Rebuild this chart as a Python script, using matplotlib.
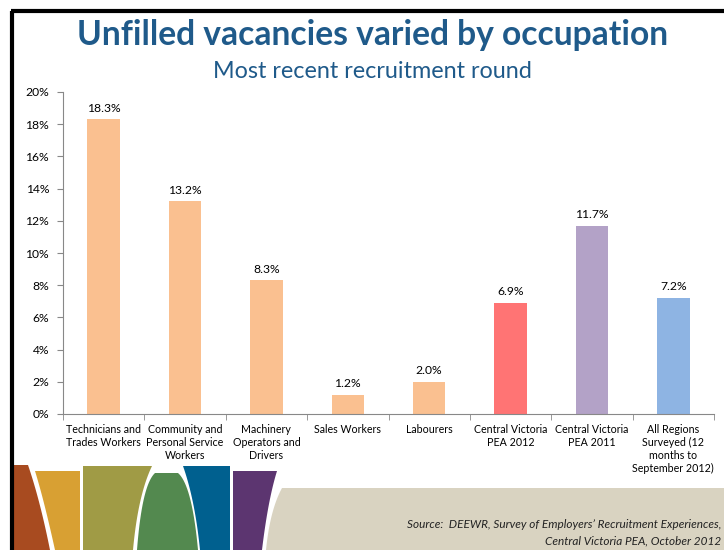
import numpy as np
import matplotlib
matplotlib.use("Agg")
import matplotlib.pyplot as plt
from matplotlib.patches import Polygon

plt.rcParams['font.family'] = ['Lato', 'DejaVu Sans']

categories = ["Technicians and\nTrades Workers", "Community and\nPersonal Service\nWorkers",
              "Machinery\nOperators and\nDrivers", "Sales Workers", "Labourers",
              "Central Victoria\nPEA 2012", "Central Victoria\nPEA 2011",
              "All Regions\nSurveyed (12\nmonths to\nSeptember 2012)"]
values = [18.3, 13.2, 8.3, 1.2, 2.0, 6.9, 11.7, 7.2]
bar_colors = ["#FAC090", "#FAC090", "#FAC090", "#FAC090", "#FAC090",
              "#FF7474", "#B3A2C7", "#8EB4E3"]
yticks = [0, 2, 4, 6, 8, 10, 12, 14, 16, 18, 20]

W, H = 724, 550
fig = plt.figure(figsize=(W / 100, H / 100), dpi=100)

# decoration layer (pixel coordinates)
deco = fig.add_axes([0, 0, 1, 1], zorder=0)
deco.set_xlim(0, W)
deco.set_ylim(H, 0)
deco.axis('off')


def bez(p0, p1, p2, n=20):
    t = np.linspace(0, 1, n)[:, None]
    p0, p1, p2 = map(np.array, (p0, p1, p2))
    return (1 - t) ** 2 * p0 + 2 * (1 - t) * t * p1 + t ** 2 * p2


def shape(pts, color):
    deco.add_patch(Polygon(pts, closed=True, facecolor=color, edgecolor='none'))


# brown
pts = np.vstack([[13, 465], bez([28, 465], [40, 500], [50, 550]), [13, 550]])
shape(pts, "#A84B20")
# orange
pts = np.vstack([[80, 471], [80, 550], bez([55, 550], [44, 500], [35, 471])])
shape(pts, "#D8A033")
# olive
pts = np.vstack([[83, 466], bez([152, 466], [138, 495], [133, 550]), [83, 550]])
shape(pts, "#A09B45")
# green arch
pts = np.vstack([bez([137, 550], [142, 485], [155, 473]), [[178, 473]],
                 bez([178, 473], [192, 485], [198, 550])])
shape(pts, "#53894F")
# blue
pts = np.vstack([bez([183, 466], [195, 500], [200, 550]), [[230, 550], [230, 466]]])
shape(pts, "#00608F")
# purple
pts = np.vstack([[233, 471], [233, 550], bez([262, 550], [268, 500], [277, 471])])
shape(pts, "#5C3570")
# beige band
pts = np.vstack([bez([266, 550], [270, 510], [282, 488]), [[W, 488], [W, 550]]])
shape(pts, "#D9D3C1")

# border
deco.plot([12, 12], [11, H], color='black', lw=3, solid_capstyle='butt')
deco.plot([11, W], [11, 11], color='black', lw=3, solid_capstyle='butt')

# titles
blue = "#1F5A8A"
fig.text(373 / W, 1 - 35 / H, "Unfilled vacancies varied by occupation", ha='center', va='center',
         fontsize=24.2, fontweight='bold', color=blue)
fig.text(372 / W, 1 - 72 / H, "Most recent recruitment round", ha='center', va='center',
         fontsize=16.8, color=blue)

# source
fig.text(721 / W, 1 - 525 / H, "Source:  DEEWR, Survey of Employers\u2019 Recruitment Experiences,",
         ha='right', va='center', fontsize=8.5, style='italic', color='#222222')
fig.text(721 / W, 1 - 541 / H, "Central Victoria PEA, October 2012",
         ha='right', va='center', fontsize=8.5, style='italic', color='#222222')

# main chart
ax = fig.add_axes([63 / W, 1 - 414 / H, (714 - 63) / W, (414 - 92) / H], zorder=1)
ax.patch.set_alpha(0)
x = np.arange(len(categories))
bars = ax.bar(x, values, width=0.4, color=bar_colors)
for xi, v in zip(x, values):
    ax.text(xi, v + 0.35, f"{v:.1f}%", ha='center', va='bottom', fontsize=8.7, color='black')

ax.set_xlim(-0.5, len(categories) - 0.5)
ax.set_ylim(0, 20)
ax.set_yticks(yticks)
ax.set_yticklabels([f"{t}%" for t in yticks], fontsize=8.7)
ax.set_xticks(x)
ax.set_xticklabels(categories, fontsize=7.7, linespacing=1.22)
ax.set_xticks(np.arange(len(categories) + 1) - 0.5, minor=True)
ax.tick_params(axis='x', which='major', length=0, pad=7)
ax.tick_params(axis='x', which='minor', length=4, color='#888888')
ax.tick_params(axis='y', length=4, color='#888888', pad=6)
for s in ['top', 'right']:
    ax.spines[s].set_visible(False)
for s in ['left', 'bottom']:
    ax.spines[s].set_color('#888888')

fig.savefig("out.png", dpi=100)
